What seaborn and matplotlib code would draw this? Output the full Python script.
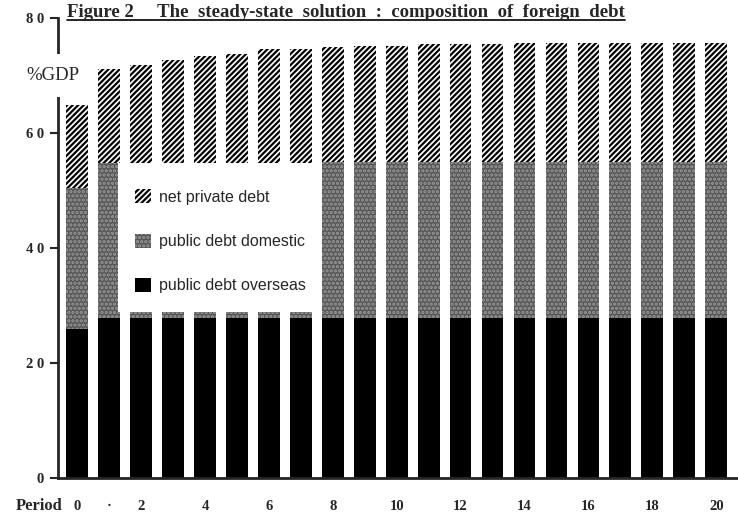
import numpy as np
import pandas as pd
import seaborn as sns
import matplotlib.pyplot as plt
from matplotlib.patches import Patch, Rectangle
from matplotlib.lines import Line2D

periods = list(range(21))
overseas = [25.9, 27.8, 27.8, 27.8, 27.8, 27.8, 27.8, 27.8, 27.8, 27.8, 27.8,
            27.8, 27.8, 27.8, 27.8, 27.8, 27.8, 27.8, 27.8, 27.8, 27.8]
domestic = [24.6, 27.0, 27.0, 27.0, 27.0, 27.0, 27.0, 27.0, 27.2, 27.2, 27.2,
            27.2, 27.2, 27.2, 27.2, 27.2, 27.2, 27.2, 27.2, 27.2, 27.2]
private = [14.3, 16.3, 17.0, 17.9, 18.6, 19.0, 19.8, 19.8, 20.0, 20.2, 20.2,
           20.4, 20.4, 20.4, 20.6, 20.6, 20.6, 20.6, 20.6, 20.6, 20.6]
xtick_labels = ["0", "·", "2", "", "4", "", "6", "", "8", "", "10", "", "12", "",
                "14", "", "16", "", "18", "", "20"]

df = pd.DataFrame({"period": periods, "overseas": overseas,
                   "domestic": domestic, "private": private})
df["lvl1"] = df["overseas"]
df["lvl2"] = df["overseas"] + df["domestic"]
df["lvl3"] = df["lvl2"] + df["private"]

sns.set_style("ticks")
plt.rcParams["hatch.linewidth"] = 1.6
serif = ["Liberation Serif", "DejaVu Serif"]
grey_face, grey_dots = "#575757", "#999999"

fig = plt.figure(figsize=(7.38, 5.18), dpi=100)
ax = fig.add_axes([0.0786, 0.0772, 0.92, 0.888])

# stacked bars: draw cumulative totals on top of each other
sns.barplot(data=df, x="period", y="lvl3", color="white", edgecolor="black",
            hatch="//////", linewidth=0, width=0.68, ax=ax)
sns.barplot(data=df, x="period", y="lvl2", color=grey_face, edgecolor=grey_dots,
            hatch="....", linewidth=0, width=0.68, ax=ax)
sns.barplot(data=df, x="period", y="lvl1", color="black", linewidth=0,
            width=0.68, ax=ax)

ax.set_xlim(-0.6, 20.65)
ax.set_ylim(0, 80)
ax.set_yticks([0, 20, 40, 60, 80])
ax.set_yticklabels(["0", "2 0", "4 0", "6 0", "8 0"], fontfamily=serif,
                   fontweight="bold", fontsize=10.5)
ax.set_xticks(periods)
ax.set_xticklabels(xtick_labels, fontfamily=serif, fontweight="bold", fontsize=10.5)
ax.tick_params(axis="x", length=0, pad=16)
ax.tick_params(axis="y", length=6, width=1.5, pad=4)
ax.set_xlabel("")
ax.set_ylabel("")
for s in ["top", "right"]:
    ax.spines[s].set_visible(False)
ax.spines["left"].set_linewidth(2)
ax.spines["bottom"].set_linewidth(2)

ax.text(0.006, -0.06, "Period", transform=ax.transAxes,
        ha="right", va="center", fontfamily=serif, fontweight="bold", fontsize=12)
ax.text(-0.047, 0.875, "%GDP", transform=ax.transAxes, ha="left", va="center",
        fontfamily=serif, fontsize=13.5,
        bbox=dict(facecolor="white", edgecolor="none", pad=9))

title = fig.text(0.091, 0.975,
                 "Figure 2     The  steady-state  solution  :  composition  of  foreign  debt",
                 ha="left", va="center", fontfamily=serif, fontweight="bold", fontsize=13.5)
fig.canvas.draw()
bb = title.get_window_extent().transformed(fig.transFigure.inverted())
fig.add_artist(Line2D([bb.x0, bb.x1], [bb.y0 + 0.002, bb.y0 + 0.002],
                      transform=fig.transFigure, color="black", lw=1.2))

# white box behind the legend, covering part of the bars
ax.add_patch(Rectangle((0.088, 0.361), 0.30, 0.324, transform=ax.transAxes,
                       facecolor="white", edgecolor="none", zorder=4))
handles = [Patch(facecolor="white", edgecolor="black", hatch="//////", lw=0),
           Patch(facecolor=grey_face, edgecolor=grey_dots, hatch="....", lw=0),
           Patch(facecolor="black", lw=0)]
leg = ax.legend(handles, ["net private debt", "public debt domestic", "public debt overseas"],
                loc="upper left", bbox_to_anchor=(0.113, 0.628), frameon=False,
                handlelength=1.0, handleheight=1.0, handletextpad=0.55,
                labelspacing=1.8, borderpad=0, borderaxespad=0,
                prop={"family": ["Liberation Sans", "DejaVu Sans"], "size": 11.5})
leg.set_zorder(5)

fig.savefig("out.png", dpi=100)
